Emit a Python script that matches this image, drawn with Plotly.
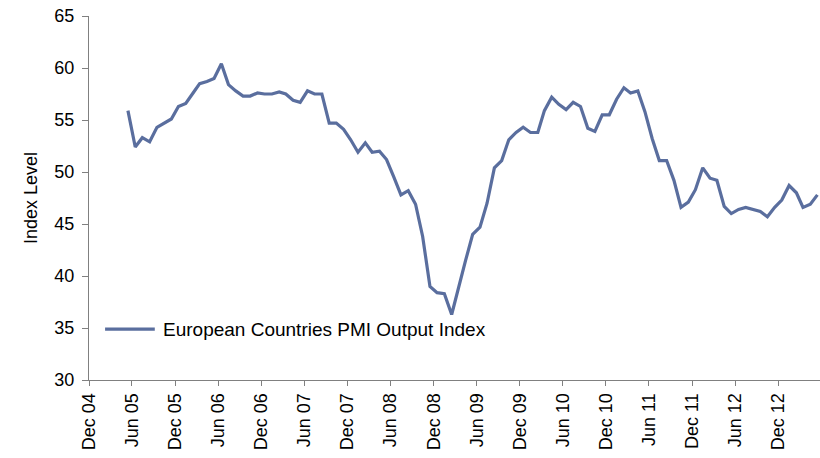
import pandas as pd
import plotly.graph_objects as go

# Monthly readings, May 2005 to May 2013
start_month = "2005-05"
pmi_output = [
    55.9, 52.4, 53.3, 52.9, 54.3, 54.7, 55.1, 56.3, 56.6, 57.6, 58.5, 58.7,
    59.0, 60.4, 58.4, 57.8, 57.3, 57.3, 57.6, 57.5, 57.5, 57.7, 57.5, 56.9,
    56.7, 57.8, 57.5, 57.5, 54.7, 54.7, 54.1, 53.1, 51.9, 52.8, 51.9, 52.0,
    51.2, 49.5, 47.8, 48.2, 46.9, 43.8, 39.0, 38.4, 38.3, 36.3, 38.9, 41.5,
    44.0, 44.7, 47.0, 50.4, 51.1, 53.1, 53.8, 54.3, 53.8, 53.8, 55.9, 57.2,
    56.5, 56.0, 56.7, 56.3, 54.2, 53.9, 55.5, 55.5, 57.0, 58.1, 57.6, 57.8,
    55.8, 53.2, 51.1, 51.1, 49.2, 46.6, 47.1, 48.3, 50.4, 49.4, 49.2, 46.7,
    46.0, 46.4, 46.6, 46.4, 46.2, 45.7, 46.6, 47.3, 48.7, 48.0, 46.6, 46.9,
    47.8,
]
series_name = "European Countries PMI Output Index"
tick_dates = pd.date_range("2004-12-01", "2012-12-01", freq="6MS")
tick_labels = [d.strftime("%b %y") for d in tick_dates]

# each reading sits in the middle of its month
months = pd.date_range(start_month, periods=len(pmi_output), freq="MS")
x_vals = months + pd.Timedelta(days=14)

line_col = "#5a6e9e"
axis_col = "#808080"
font_fam = "Liberation Sans, Arial, sans-serif"

fig = go.Figure()
fig.add_trace(go.Scatter(
    x=x_vals, y=pmi_output, mode="lines", name=series_name,
    line=dict(color=line_col, width=3.2), showlegend=False,
))

# legend key drawn inside the plot area, lower left
fig.add_shape(type="line", xref="paper", yref="paper",
              x0=0.022, x1=0.090, y0=0.14, y1=0.14,
              line=dict(color=line_col, width=3.2))
fig.add_annotation(text=series_name, xref="paper", yref="paper",
                   x=0.0985, y=0.14, xanchor="left", yanchor="middle",
                   showarrow=False, font=dict(size=19, color="black"))

fig.update_layout(
    width=820, height=458,
    margin=dict(l=89, r=0, t=16, b=78),
    paper_bgcolor="white", plot_bgcolor="white",
    font=dict(family=font_fam, size=18, color="black"),
    showlegend=False,
)
fig.update_xaxes(
    type="date", range=["2004-12-01", "2013-05-26"],
    tickvals=tick_dates, ticktext=tick_labels, tickangle=-90,
    showgrid=False, zeroline=False,
    showline=True, linecolor=axis_col, linewidth=1,
    ticks="outside", ticklen=5, tickcolor=axis_col,
    tickfont=dict(size=18),
)
fig.update_yaxes(
    range=[30, 65], dtick=5,
    title=dict(text="Index Level", font=dict(size=18), standoff=12),
    showgrid=False, zeroline=False,
    showline=True, linecolor=axis_col, linewidth=1,
    ticks="outside", ticklen=6, tickcolor=axis_col,
    ticklabelstandoff=4,
    tickfont=dict(size=18),
)

fig.write_html("out.html")
